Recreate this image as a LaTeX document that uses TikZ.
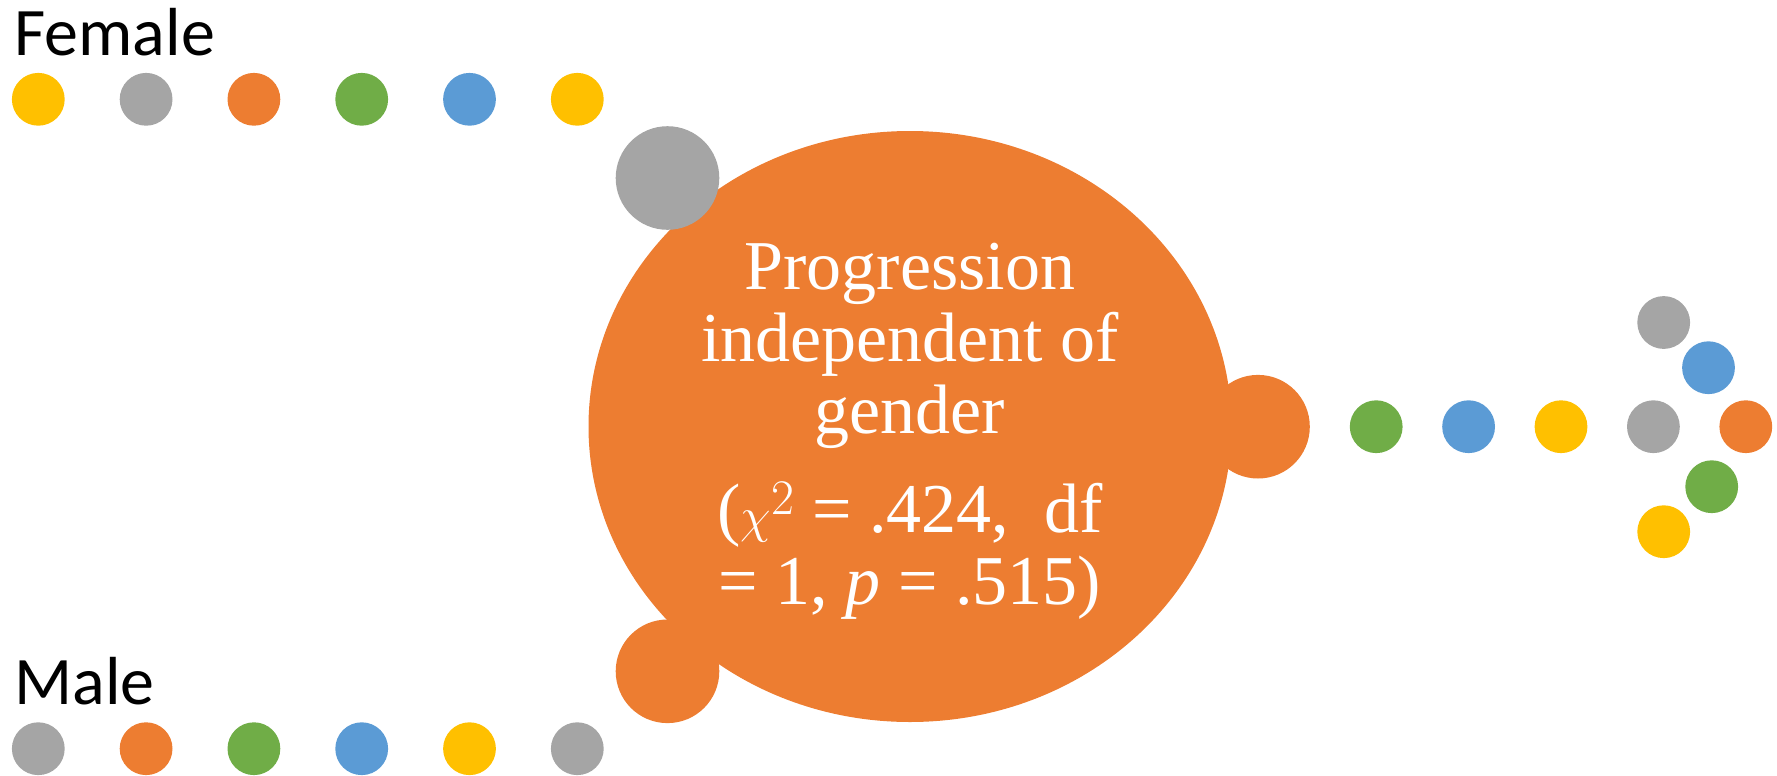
\documentclass[tikz,border=0pt]{standalone}
\usepackage{fontspec}
\setmainfont{Liberation Serif}
\newfontfamily\labelfont{Carlito}
\usepackage{tikz}
\usetikzlibrary{shapes.geometric}
\definecolor{dotorange}{rgb}{0.929,0.490,0.192}
\definecolor{dotgrey}{rgb}{0.647,0.647,0.647}
\definecolor{dotyellow}{rgb}{1.0,0.753,0.0}
\definecolor{dotgreen}{rgb}{0.439,0.678,0.278}
\definecolor{dotblue}{rgb}{0.357,0.608,0.835}

\begin{document}
\begin{tikzpicture}[
    x=0.5pt, y=-0.5pt,
    node distance=53.9pt,
    dot/.style={circle, inner sep=0pt, minimum size=26.4pt},
    blob/.style={circle, inner sep=0pt, minimum size=51.8pt},
    bubble/.style={ellipse, fill=dotorange, inner sep=0pt, minimum width=321.5pt, minimum height=295.5pt, text=white, align=center, font=\fontsize{35}{36}\selectfont},
    group/.style={anchor=base west, inner sep=0pt, font=\labelfont\fontsize{34}{40}\selectfont}
]
    \useasboundingbox (0,0) rectangle (1777,776);

    % centre bubble
    \node[bubble] (result) at (910,426.5) {\rule{0pt}{28pt}Progression\\independent of\\gender\\[13.8pt](\(\chi^{2}\) = .424,\ \ df\\= 1, \textit{p} = .515)};
    \node[blob, fill=dotgrey] (fin) at (667.5,178) {};
    \node[blob, fill=dotorange] (min) at (667.5,671.3) {};
    \node[blob, fill=dotorange] (out) at (1258,426.7) {};

    % female row
    \node[group] (female) at (14,55) {Female};
    \node[dot, fill=dotyellow] (f1) at (38.3,99.3) {};
    \node[dot, fill=dotgrey, right of=f1] (f2) {};
    \node[dot, fill=dotorange, right of=f2] (f3) {};
    \node[dot, fill=dotgreen, right of=f3] (f4) {};
    \node[dot, fill=dotblue, right of=f4] (f5) {};
    \node[dot, fill=dotyellow, right of=f5] (f6) {};

    % male row
    \node[group] (male) at (14,704.3) {Male};
    \node[dot, fill=dotgrey] (m1) at (38.3,748.7) {};
    \node[dot, fill=dotorange, right of=m1] (m2) {};
    \node[dot, fill=dotgreen, right of=m2] (m3) {};
    \node[dot, fill=dotblue, right of=m3] (m4) {};
    \node[dot, fill=dotyellow, right of=m4] (m5) {};
    \node[dot, fill=dotgrey, right of=m5] (m6) {};

    % outgoing row and arrow head
    \node[dot, fill=dotgreen] (r1) at (1376.2,426.7) {};
    \node[dot, fill=dotblue, right of=r1, node distance=46.2pt] (r2) {};
    \node[dot, fill=dotyellow, right of=r2, node distance=46.2pt] (r3) {};
    \node[dot, fill=dotgrey, right of=r3, node distance=46.2pt] (r4) {};
    \node[dot, fill=dotgrey] (h1) at (1663.7,322.5) {};
    \node[dot, fill=dotblue] (h2) at (1708.5,367.7) {};
    \node[dot, fill=dotorange] (h3) at (1745.8,426.7) {};
    \node[dot, fill=dotgreen] (h4) at (1711.7,486.7) {};
    \node[dot, fill=dotyellow] (h5) at (1663.7,531.7) {};
\end{tikzpicture}
\end{document}
